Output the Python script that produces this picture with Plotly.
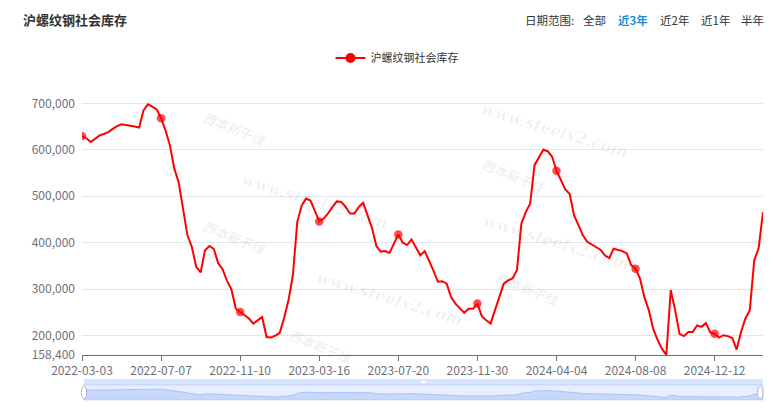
import plotly.graph_objects as go
import pandas as pd

# ---------------- data ----------------
series_name = "沪螺纹钢社会库存"
title_text = "沪螺纹钢社会库存"
range_label = "日期范围:"
range_options = ["全部", "近3年", "近2年", "近1年", "半年"]
active_option = "近3年"

# weekly dates (one holiday week 2023-10-05 not published)
start_date = "2022-03-03"
skipped_dates = ["2023-10-05"]
n_weeks_total = 157
dates = [d.strftime("%Y-%m-%d") for d in pd.date_range(start_date, periods=n_weeks_total, freq="7D")
         if d.strftime("%Y-%m-%d") not in skipped_dates]

values = [
    630000, 625000, 617000, 625000, 631000, 634000, 638000, 645000, 651000, 655000,
    654000, 652000, 650000, 648000, 685000, 698000, 693000, 687000, 668000, 642000,
    610000, 560000, 530000, 475000, 416000, 391000, 348000, 336000, 384000, 393000,
    387000, 356000, 343000, 318000, 300000, 258000, 251000, 242000, 237000, 226000,
    234000, 240000, 197000, 196000, 200000, 206000, 238000, 276000, 330000, 445000,
    480000, 495000, 491000, 470000, 446000, 452000, 463000, 477000, 489000, 488000,
    477000, 463000, 463000, 477000, 486000, 459000, 432000, 393000, 381000, 382000,
    378000, 398000, 418000, 400000, 395000, 407000, 390000, 373000, 382000, 362000,
    340000, 316000, 317000, 312000, 283000, 269000, 258000, 249000, 258000, 258000,
    269000, 242000, 233000, 226000, 255000, 285000, 312000, 319000, 323000, 341000,
    441000, 466000, 484000, 567000, 585000, 600000, 597000, 585000, 555000, 535000,
    515000, 505000, 459000, 438000, 416000, 402000, 396000, 391000, 385000, 373000,
    367000, 387000, 384000, 382000, 377000, 352000, 344000, 323000, 283000, 255000,
    215000, 191000, 172000, 158400, 298000, 255000, 204000, 199000, 208000, 208000,
    222000, 219000, 227000, 207000, 204000, 196000, 201000, 199000, 195000, 170000,
    208000, 237000, 255000, 362000, 388000, 466000,
]

x_tick_labels = ["2022-03-03", "2022-07-07", "2022-11-10", "2023-03-16", "2023-07-20",
                 "2023-11-30", "2024-04-04", "2024-08-08", "2024-12-12"]
y_tick_values = [158400, 200000, 300000, 400000, 500000, 600000, 700000]
y_tick_labels = ["158,400", "200,000", "300,000", "400,000", "500,000", "600,000", "700,000"]

watermark_text = "www.steelx2.com"
watermark_logo_text = "西本新干线"

# ---------------- layout helpers ----------------
# the page body adds an 8px offset, so the figure is drawn 8px smaller and
# all reference pixel positions are shifted by that offset
OFF = 8
W, H = 773 - OFF, 410 - OFF
ML, MR, MT, MB = 82 - OFF, 10, 95 - OFF, 8
PW, PH = W - ML - MR, H - MT - MB


def px_x(p):
    return (p - OFF - ML) / PW


def px_y(p):
    return (H - MB - (p - OFF)) / PH


red = "#ff0000"
axis_col = "#6E7079"
font_family = "Noto Sans CJK SC, Noto Sans, sans-serif"

marker_sizes = [8.5 if (d in x_tick_labels) else 0 for d in dates]

fig = go.Figure()
fig.add_trace(go.Scatter(
    x=dates, y=values, name=series_name, mode="lines+markers", showlegend=False,
    line=dict(color=red, width=2),
    marker=dict(size=marker_sizes, color=red, line=dict(width=0)),
    xaxis="x", yaxis="y",
))
# legend entry for the series
fig.add_trace(go.Scatter(
    x=[None], y=[None], name=series_name, mode="lines+markers",
    line=dict(color=red, width=2), marker=dict(size=10, color=red),
    xaxis="x", yaxis="y",
))
# data-zoom slider shadow
fig.add_trace(go.Scatter(
    x=dates, y=values, mode="lines", showlegend=False, hoverinfo="skip",
    line=dict(color="#9fb9f3", width=0.8),
    fill="tozeroy", fillcolor="rgba(143,176,247,0.35)",
    xaxis="x2", yaxis="y2",
))

n = len(dates)
shapes = [
    dict(type="rect", xref="x2 domain", yref="y2 domain", x0=0, x1=1, y0=0, y1=1,
         fillcolor="rgba(135,175,255,0.2)", line=dict(color="#d2dbee", width=1), layer="below"),
    dict(type="rect", xref="x2 domain", yref="y2 domain", x0=0, x1=1, y0=1, y1=1.4,
         fillcolor="rgba(135,175,255,0.32)", line=dict(width=0), layer="below"),
    dict(type="rect", xref="x2 domain", yref="y2 domain", x0=0.497, x1=0.503, y0=1.12, y1=1.28,
         fillcolor="white", line=dict(width=0)),
    dict(type="circle", xref="x2 domain", yref="y2 domain", x0=-0.004, x1=0.004, y0=0.08, y1=0.92,
         fillcolor="white", line=dict(color="#ACB8D1", width=1)),
    dict(type="circle", xref="x2 domain", yref="y2 domain", x0=0.992, x1=1.0, y0=0.08, y1=0.92,
         fillcolor="white", line=dict(color="#ACB8D1", width=1)),
]

annotations = [
    dict(text=f"<b>{title_text}</b>", x=px_x(21), y=px_y(20), xref="paper", yref="paper",
         xanchor="left", yanchor="middle", showarrow=False,
         font=dict(size=13, color="#333333", family=font_family)),
    dict(text=range_label, x=px_x(523), y=px_y(20), xref="paper", yref="paper",
         xanchor="left", yanchor="middle", showarrow=False,
         font=dict(size=11.5, color="#333333", family=font_family)),
]
opt_x = [581, 616, 658, 699, 739]
for label, xp in zip(range_options, opt_x):
    active = label == active_option
    annotations.append(dict(
        text=f"<b>{label}</b>" if active else label, x=px_x(xp), y=px_y(20),
        xref="paper", yref="paper", xanchor="left", yanchor="middle", showarrow=False,
        font=dict(size=11.5, color="#1a8fd8" if active else "#333333", family=font_family)))

for (cx, cy) in [(315, 168), (390, 298), (633, 97), (635, 242)]:
    annotations.append(dict(
        text=watermark_text, x=px_x(cx), y=px_y(cy), xref="paper", yref="paper",
        showarrow=False, textangle=17,
        font=dict(size=16, color="rgba(0,0,0,0.06)", family="DejaVu Serif",
                  weight="bold", style="italic")))

for (cx, cy) in [(197, 105), (197, 237), (513, 152), (527, 312), (283, 370)]:
    annotations.append(dict(
        text=watermark_logo_text, x=px_x(cx), y=px_y(cy), xref="paper", yref="paper",
        showarrow=False, textangle=22,
        font=dict(size=13, color="rgba(0,0,0,0.07)", family=font_family, weight="bold",
                  style="italic")))

fig.update_layout(
    width=W, height=H, autosize=False,
    margin=dict(l=ML, r=MR, t=MT, b=MB, autoexpand=False),
    paper_bgcolor="white", plot_bgcolor="white",
    font=dict(family=font_family, size=12, color=axis_col),
    showlegend=True,
    legend=dict(orientation="h", x=px_x(397), y=px_y(58), xanchor="center", yanchor="middle",
                font=dict(size=11, color="#333333"), bgcolor="rgba(0,0,0,0)"),
    xaxis=dict(type="category", domain=[0, 1], anchor="y", range=[0, n - 1], automargin=False,
               showgrid=False, showline=True, linecolor=axis_col, linewidth=1,
               ticks="outside", ticklen=5, tickcolor=axis_col,
               tickmode="array", tickvals=x_tick_labels, ticktext=x_tick_labels,
               tickfont=dict(size=12, color=axis_col)),
    yaxis=dict(domain=[px_y(355), 1], anchor="x", range=[158400, 718000], automargin=False,
               tickmode="array", tickvals=y_tick_values, ticktext=y_tick_labels,
               showgrid=True, gridcolor="#E0E6F1", gridwidth=1, zeroline=False,
               showline=False, ticks="", ticklabelstandoff=6,
               tickfont=dict(size=12, color=axis_col)),
    xaxis2=dict(type="category", domain=[0.003, 1], anchor="y2", range=[0, n - 1],
                visible=False, automargin=False),
    yaxis2=dict(domain=[px_y(400), px_y(385)], anchor="x2", range=[0, 950000], visible=False,
                automargin=False),
    shapes=shapes,
    annotations=annotations,
    hovermode="x",
)

fig.write_html("out.html")
